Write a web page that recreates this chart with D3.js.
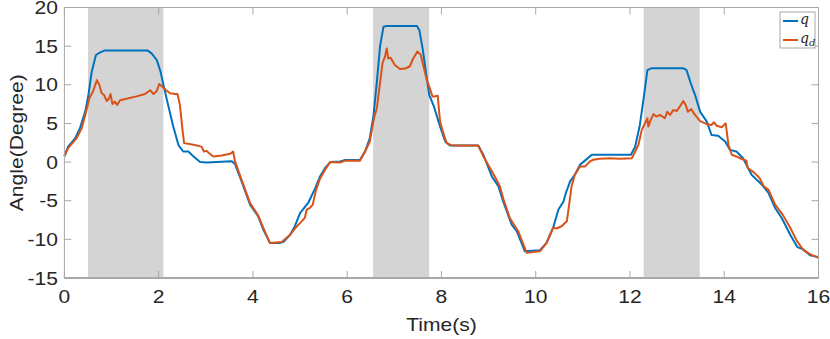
<!DOCTYPE html>
<html>
<head>
<meta charset="utf-8">
<script src="https://cdn.jsdelivr.net/npm/d3@7"></script>
<style>
  body { margin: 0; background: #fff; }
  svg { display: block; }
</style>
</head>
<body>
<script>
// shaded intervals (s)
const shadeStart = [0.5, 6.55, 12.29]
const shadeEnd = [2.1, 7.74, 13.48]

const xTicks = [0, 2, 4, 6, 8, 10, 12, 14, 16]
const yTicks = [-15, -10, -5, 0, 5, 10, 15, 20]

// q (blue)
const qTime = [0, 0.08, 0.23, 0.33, 0.44, 0.51, 0.58, 0.67, 0.76, 0.86, 1.76, 1.85, 1.96, 2.04, 2.1, 2.2, 2.31, 2.42, 2.52, 2.63, 2.74, 2.88, 3.02, 3.44, 3.55, 3.62, 3.76, 3.94, 4.11, 4.22, 4.36, 4.58, 4.65, 4.79, 4.89, 5.0, 5.18, 5.32, 5.42, 5.53, 5.64, 5.85, 5.96, 6.27, 6.38, 6.48, 6.56, 6.63, 6.7, 6.77, 6.84, 7.48, 7.53, 7.6, 7.67, 7.74, 7.84, 7.97, 8.08, 8.18, 8.78, 8.89, 9.07, 9.21, 9.31, 9.49, 9.6, 9.77, 10.09, 10.23, 10.37, 10.48, 10.59, 10.64, 10.73, 10.83, 10.94, 11.05, 11.19, 12.02, 12.11, 12.21, 12.3, 12.37, 12.46, 13.13, 13.2, 13.29, 13.38, 13.49, 13.63, 13.73, 13.87, 14.02, 14.12, 14.26, 14.4, 14.58, 14.69, 14.8, 14.94, 15.08, 15.22, 15.4, 15.55, 15.68, 15.82, 16.0]
const qValue = [0.8, 2.0, 3.1, 4.4, 6.5, 8.7, 11.7, 13.85, 14.2, 14.45, 14.45, 14.07, 13.2, 11.7, 10.0, 7.4, 4.6, 2.2, 1.37, 1.37, 0.73, 0.0, -0.07, 0.08, 0.1, -0.26, -2.5, -5.5, -7.0, -8.74, -10.46, -10.46, -10.33, -9.4, -8.3, -6.6, -5.2, -3.4, -1.9, -0.78, 0.0, 0.08, 0.26, 0.26, 1.37, 3.1, 6.1, 10.4, 15.1, 17.5, 17.6, 17.6, 17.1, 14.7, 11.7, 8.7, 7.2, 4.6, 2.66, 2.15, 2.15, 0.94, -1.86, -3.15, -5.1, -8.1, -8.96, -11.54, -11.4, -10.46, -8.5, -6.16, -5.1, -4.0, -2.5, -1.64, -0.35, 0.22, 0.94, 0.94, 2.0, 4.8, 8.7, 11.9, 12.15, 12.15, 11.9, 10.2, 8.7, 6.5, 5.24, 3.5, 3.4, 2.66, 1.58, 1.37, 0.5, -1.64, -2.3, -2.93, -4.0, -5.94, -7.23, -9.4, -11.0, -11.3, -12.06, -12.3]

// q_d (orange)
const qdTime = [0, 0.08, 0.26, 0.37, 0.47, 0.53, 0.61, 0.69, 0.74, 0.79, 0.84, 0.9, 0.95, 0.98, 1.02, 1.07, 1.12, 1.18, 1.32, 1.53, 1.71, 1.82, 1.89, 1.96, 2.01, 2.06, 2.16, 2.24, 2.35, 2.4, 2.45, 2.51, 2.54, 2.74, 2.91, 2.96, 3.02, 3.07, 3.16, 3.34, 3.41, 3.52, 3.58, 3.62, 3.76, 3.94, 4.11, 4.22, 4.36, 4.61, 4.79, 4.89, 5.0, 5.1, 5.14, 5.21, 5.27, 5.34, 5.42, 5.53, 5.64, 5.85, 5.96, 6.27, 6.38, 6.48, 6.57, 6.63, 6.7, 6.75, 6.8, 6.84, 6.87, 6.92, 7.01, 7.12, 7.23, 7.33, 7.4, 7.49, 7.56, 7.63, 7.69, 7.74, 7.81, 7.86, 7.92, 7.97, 8.04, 8.11, 8.22, 8.78, 8.89, 9.0, 9.07, 9.14, 9.24, 9.32, 9.45, 9.56, 9.63, 9.81, 10.09, 10.23, 10.37, 10.44, 10.55, 10.66, 10.71, 10.76, 10.83, 10.94, 11.05, 11.15, 11.22, 11.36, 11.58, 11.79, 12.04, 12.11, 12.18, 12.25, 12.32, 12.37, 12.39, 12.44, 12.5, 12.56, 12.64, 12.74, 12.79, 12.85, 12.92, 12.99, 13.06, 13.13, 13.18, 13.23, 13.3, 13.38, 13.49, 13.63, 13.73, 13.78, 13.84, 13.95, 14.03, 14.09, 14.16, 14.26, 14.36, 14.47, 14.5, 14.6, 14.64, 14.75, 14.84, 14.94, 15.08, 15.24, 15.4, 15.54, 15.68, 15.82, 16.0]
const qdValue = [0.73, 1.8, 3.1, 4.4, 6.75, 8.26, 9.2, 10.6, 10.0, 8.9, 8.7, 7.9, 8.26, 8.8, 7.5, 7.83, 7.4, 8.0, 8.2, 8.5, 8.8, 9.3, 8.8, 9.2, 10.1, 9.85, 9.3, 8.9, 8.8, 8.8, 7.4, 3.95, 2.45, 2.24, 2.0, 1.37, 1.45, 1.15, 0.73, 0.86, 0.94, 1.07, 1.37, 0.08, -2.3, -5.3, -6.9, -8.5, -10.46, -10.33, -9.4, -8.6, -7.9, -7.23, -6.16, -5.94, -5.5, -3.6, -2.2, -1.0, 0.0, -0.07, 0.18, 0.18, 1.37, 2.66, 5.7, 7.0, 10.4, 12.8, 13.6, 14.7, 13.4, 13.5, 12.56, 12.05, 12.1, 12.4, 13.4, 14.3, 13.9, 12.1, 10.6, 9.76, 8.5, 8.5, 8.6, 5.24, 3.74, 2.45, 2.15, 2.15, 0.73, -0.43, -1.2, -1.97, -3.15, -4.87, -7.23, -8.3, -8.96, -11.75, -11.54, -10.46, -8.5, -8.6, -8.3, -7.66, -5.5, -3.15, -1.64, -0.56, -0.56, 0.08, 0.3, 0.43, 0.5, 0.43, 0.5, 1.37, 2.24, 4.17, 5.03, 5.67, 4.6, 5.46, 6.2, 5.9, 6.1, 5.67, 6.5, 6.1, 6.75, 6.6, 7.2, 7.9, 7.4, 6.5, 6.85, 6.1, 5.3, 4.9, 4.8, 5.15, 4.7, 4.5, 5.03, 2.24, 0.94, 0.73, 0.43, 0.18, -0.78, -1.2, -1.4, -2.07, -3.15, -3.6, -5.5, -6.8, -8.5, -10.2, -11.4, -11.9, -12.4]

const width = 830
const height = 339
const plotLeft = 64.4, plotRight = 818.5, plotTop = 7.5, plotBottom = 278
const blue = '#0072BD'
const orange = '#D95319'
const textColor = '#262626'
const axisColor = '#a8a8a8'
const stretch = 1.17

const svg = d3.select('body')
	.append('svg')
	.attr('width', width)
	.attr('height', height)
	.style('font-family', 'Arial, "Liberation Sans", Helvetica, sans-serif')

const xScale = d3.scaleLinear().domain([0, 16]).range([plotLeft, plotRight])
const yScale = d3.scaleLinear().domain([-15, 20]).range([plotBottom, plotTop])

// shaded bands
svg.selectAll('rect.band')
	.data(shadeStart.map((s, i) => [s, shadeEnd[i]]))
	.enter()
	.append('rect')
	.attr('class', 'band')
	.attr('x', d => xScale(d[0]))
	.attr('width', d => xScale(d[1]) - xScale(d[0]))
	.attr('y', plotTop)
	.attr('height', plotBottom - plotTop)
	.attr('fill', '#d4d4d4')

const line = d3.line()
	.x(d => xScale(d[0]))
	.y(d => yScale(d[1]))

svg.append('path')
	.datum(qTime.map((t, i) => [t, qValue[i]]))
	.attr('d', line)
	.attr('fill', 'none')
	.attr('stroke', blue)
	.attr('stroke-width', 2)
	.attr('stroke-linejoin', 'round')

svg.append('path')
	.datum(qdTime.map((t, i) => [t, qdValue[i]]))
	.attr('d', line)
	.attr('fill', 'none')
	.attr('stroke', orange)
	.attr('stroke-width', 2)
	.attr('stroke-linejoin', 'round')

// box
svg.append('rect')
	.attr('x', plotLeft)
	.attr('y', plotTop)
	.attr('width', plotRight - plotLeft)
	.attr('height', plotBottom - plotTop)
	.attr('fill', 'none')
	.attr('stroke', axisColor)
	.attr('stroke-width', 1)
svg.append('line')
	.attr('x1', plotLeft).attr('x2', plotRight)
	.attr('y1', plotBottom).attr('y2', plotBottom)
	.attr('stroke', axisColor)
	.attr('stroke-width', 2)

// inward ticks on all four sides
const tickLen = 7
xTicks.forEach(t => {
	const x = xScale(t)
	svg.append('line').attr('x1', x).attr('x2', x).attr('y1', plotBottom).attr('y2', plotBottom - tickLen).attr('stroke', axisColor)
	svg.append('line').attr('x1', x).attr('x2', x).attr('y1', plotTop).attr('y2', plotTop + tickLen).attr('stroke', axisColor)
})
yTicks.forEach(v => {
	const y = yScale(v)
	svg.append('line').attr('x1', plotLeft).attr('x2', plotLeft + tickLen).attr('y1', y).attr('y2', y).attr('stroke', axisColor)
	svg.append('line').attr('x1', plotRight).attr('x2', plotRight - tickLen).attr('y1', y).attr('y2', y).attr('stroke', axisColor)
})

// tick labels (slightly widened like the original)
svg.selectAll('g.xlab')
	.data(xTicks)
	.enter()
	.append('g')
	.attr('transform', d => `translate(${xScale(d)},303) scale(${stretch},1)`)
	.append('text')
	.attr('text-anchor', 'middle')
	.attr('font-size', 18)
	.attr('fill', textColor)
	.text(d => d)

svg.selectAll('g.ylab')
	.data(yTicks)
	.enter()
	.append('g')
	.attr('transform', d => `translate(58,${yScale(d) + 6.5}) scale(${stretch},1)`)
	.append('text')
	.attr('text-anchor', 'end')
	.attr('font-size', 18)
	.attr('fill', textColor)
	.text(d => d)

svg.append('g')
	.attr('transform', `translate(${(plotLeft + plotRight) / 2},331) scale(${stretch},1)`)
	.append('text')
	.attr('text-anchor', 'middle')
	.attr('font-size', 18)
	.attr('fill', textColor)
	.text('Time(s)')

svg.append('g')
	.attr('transform', `translate(23,${(plotTop + plotBottom) / 2}) rotate(-90) scale(${stretch},1)`)
	.append('text')
	.attr('text-anchor', 'middle')
	.attr('font-size', 18)
	.attr('fill', textColor)
	.text('Angle(Degree)')

// legend
const legend = svg.append('g').attr('transform', 'translate(780,12)')
legend.append('rect')
	.attr('width', 35)
	.attr('height', 36)
	.attr('fill', '#fff')
	.attr('stroke', axisColor)
const legendItems = [['q', null, blue], ['q', 'd', orange]]
legendItems.forEach((d, i) => {
	const y = 9 + i * 19
	legend.append('line')
		.attr('x1', 3).attr('x2', 18)
		.attr('y1', y).attr('y2', y)
		.attr('stroke', d[2])
		.attr('stroke-width', 2)
	const t = legend.append('text')
		.attr('x', 20)
		.attr('y', y + 3)
		.attr('font-family', '"DejaVu Serif", "Liberation Serif", serif')
		.attr('font-style', 'italic')
		.attr('font-size', 14)
		.attr('fill', textColor)
		.text(d[0])
	if (d[1]) {
		t.append('tspan')
			.attr('dy', 3)
			.attr('font-size', 10)
			.text(d[1])
	}
})
</script>
</body>
</html>
